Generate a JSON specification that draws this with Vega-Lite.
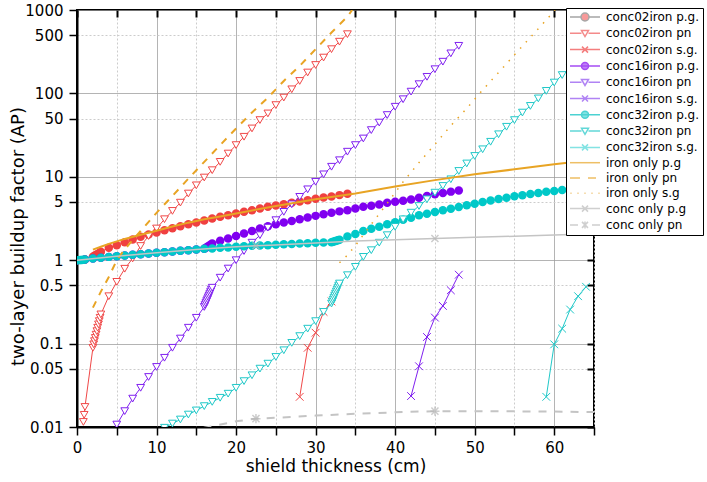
{
  "$schema": "https://vega.github.io/schema/vega-lite/v6.json",
  "width": 517,
  "height": 417,
  "autosize": "none",
  "padding": {"left": 77, "top": 10, "right": 113, "bottom": 55},
  "background": "white",
  "config": {
    "font": "DejaVu Sans",
    "view": {"stroke": "#000", "strokeWidth": 2},
    "axis": {
      "domainColor": "#000", "domainWidth": 2, "tickColor": "#000", "tickWidth": 1.5,
      "labelFont": "DejaVu Sans", "labelFontSize": 15, "labelColor": "#000",
      "titleFont": "DejaVu Sans", "titleFontSize": 17, "titleFontWeight": "normal", "titleColor": "#000"
    }
  },
  "datasets": {
    "c02pg": [{"x":0,"y":1.0},{"x":1,"y":1.02},{"x":2,"y":1.10},{"x":2.2,"y":1.13},{"x":2.4,"y":1.16},{"x":2.6,"y":1.19},{"x":2.8,"y":1.22},{"x":3,"y":1.26},{"x":4,"y":1.41},{"x":5,"y":1.51},{"x":6,"y":1.64},{"x":7,"y":1.77},{"x":8,"y":1.91},{"x":9,"y":2.03},{"x":10,"y":2.15},{"x":11,"y":2.29},{"x":12,"y":2.42},{"x":13,"y":2.56},{"x":14,"y":2.70},{"x":15,"y":2.83},{"x":16,"y":2.99},{"x":17,"y":3.16},{"x":18,"y":3.31},{"x":19,"y":3.47},{"x":20,"y":3.63},{"x":21,"y":3.80},{"x":22,"y":3.98},{"x":23,"y":4.17},{"x":24,"y":4.37},{"x":25,"y":4.54},{"x":26,"y":4.70},{"x":27,"y":4.88},{"x":28,"y":5.07},{"x":29,"y":5.25},{"x":30,"y":5.44},{"x":31,"y":5.65},{"x":32,"y":5.82},{"x":33,"y":6.03},{"x":34,"y":6.25}],
    "c02pn": [{"x":0.8,"y":0.0115},{"x":0.9,"y":0.014},{"x":1.0,"y":0.0174},{"x":2.0,"y":0.089},{"x":2.1,"y":0.098},{"x":2.2,"y":0.107},{"x":2.3,"y":0.117},{"x":2.4,"y":0.128},{"x":2.5,"y":0.141},{"x":2.6,"y":0.155},{"x":2.7,"y":0.170},{"x":2.8,"y":0.186},{"x":2.9,"y":0.204},{"x":3.0,"y":0.224},{"x":4,"y":0.37},{"x":5,"y":0.55},{"x":6,"y":0.79},{"x":7,"y":1.05},{"x":8,"y":1.48},{"x":9,"y":1.95},{"x":10,"y":2.4},{"x":11,"y":3.1},{"x":12,"y":3.9},{"x":13,"y":4.9},{"x":14,"y":6.3},{"x":15,"y":7.9},{"x":16,"y":9.8},{"x":17,"y":12.0},{"x":18,"y":15.1},{"x":19,"y":19.0},{"x":20,"y":24.0},{"x":21,"y":30.2},{"x":22,"y":38.0},{"x":23,"y":47.9},{"x":24,"y":57.5},{"x":25,"y":72.4},{"x":26,"y":89.1},{"x":27,"y":112},{"x":28,"y":141},{"x":29,"y":178},{"x":30,"y":219},{"x":31,"y":269},{"x":32,"y":339},{"x":33,"y":417},{"x":34,"y":513}],
    "c02sg": [{"x":28,"y":0.023},{"x":29,"y":0.089},{"x":30,"y":0.135},{"x":31,"y":0.24},{"x":32,"y":0.32}],
    "c16pg": [{"x":0,"y":1.0},{"x":1,"y":1.02},{"x":2,"y":1.047},{"x":3,"y":1.072},{"x":4,"y":1.096},{"x":5,"y":1.117},{"x":6,"y":1.138},{"x":7,"y":1.159},{"x":8,"y":1.18},{"x":9,"y":1.202},{"x":10,"y":1.225},{"x":11,"y":1.247},{"x":12,"y":1.271},{"x":13,"y":1.294},{"x":14,"y":1.318},{"x":15,"y":1.343},{"x":16.0,"y":1.37},{"x":16.2,"y":1.41},{"x":16.4,"y":1.445},{"x":16.6,"y":1.486},{"x":16.8,"y":1.53},{"x":17.0,"y":1.585},{"x":18,"y":1.706},{"x":19,"y":1.82},{"x":20,"y":1.95},{"x":21,"y":2.09},{"x":22,"y":2.24},{"x":23,"y":2.40},{"x":24,"y":2.56},{"x":25,"y":2.70},{"x":26,"y":2.83},{"x":27,"y":2.96},{"x":28,"y":3.10},{"x":29,"y":3.25},{"x":30,"y":3.40},{"x":31,"y":3.55},{"x":32,"y":3.70},{"x":33,"y":3.85},{"x":34,"y":3.98},{"x":35,"y":4.17},{"x":36,"y":4.37},{"x":37,"y":4.49},{"x":38,"y":4.66},{"x":39,"y":4.88},{"x":40,"y":5.01},{"x":41,"y":5.15},{"x":42,"y":5.35},{"x":43,"y":5.62},{"x":44,"y":5.89},{"x":45,"y":6.17},{"x":46,"y":6.40},{"x":47,"y":6.64},{"x":48,"y":6.85}],
    "c16pn": [{"x":5,"y":0.0107},{"x":6,"y":0.0155},{"x":7,"y":0.0219},{"x":8,"y":0.0295},{"x":9,"y":0.0398},{"x":10,"y":0.0525},{"x":11,"y":0.0676},{"x":12,"y":0.0891},{"x":13,"y":0.115},{"x":14,"y":0.155},{"x":15,"y":0.204},{"x":16.0,"y":0.275},{"x":16.1,"y":0.290},{"x":16.2,"y":0.306},{"x":16.3,"y":0.323},{"x":16.4,"y":0.340},{"x":16.5,"y":0.359},{"x":16.6,"y":0.378},{"x":16.7,"y":0.399},{"x":16.8,"y":0.421},{"x":16.9,"y":0.444},{"x":17.0,"y":0.468},{"x":18,"y":0.617},{"x":19,"y":0.794},{"x":20,"y":1.0},{"x":21,"y":1.288},{"x":22,"y":1.622},{"x":23,"y":1.995},{"x":24,"y":2.455},{"x":25,"y":3.02},{"x":26,"y":3.80},{"x":27,"y":4.68},{"x":28,"y":5.75},{"x":29,"y":7.08},{"x":30,"y":8.71},{"x":31,"y":10.7},{"x":32,"y":13.2},{"x":33,"y":15.8},{"x":34,"y":20.0},{"x":35,"y":24.0},{"x":36,"y":28.8},{"x":37,"y":36.3},{"x":38,"y":44.7},{"x":39,"y":55.0},{"x":40,"y":69.2},{"x":41,"y":85.1},{"x":42,"y":105},{"x":43,"y":129},{"x":44,"y":158},{"x":45,"y":195},{"x":46,"y":240},{"x":47,"y":302},{"x":48,"y":372}],
    "c16sg": [{"x":42,"y":0.0235},{"x":43,"y":0.0535},{"x":44,"y":0.12},{"x":45,"y":0.205},{"x":46,"y":0.283},{"x":47,"y":0.436},{"x":48,"y":0.67}],
    "c32pg": [{"x":0,"y":1.0},{"x":0.2,"y":1.002},{"x":0.4,"y":1.005},{"x":0.6,"y":1.008},{"x":0.8,"y":1.012},{"x":1.0,"y":1.02},{"x":2,"y":1.047},{"x":3,"y":1.072},{"x":4,"y":1.096},{"x":5,"y":1.117},{"x":6,"y":1.138},{"x":7,"y":1.159},{"x":8,"y":1.18},{"x":9,"y":1.202},{"x":10,"y":1.225},{"x":11,"y":1.247},{"x":12,"y":1.271},{"x":13,"y":1.294},{"x":14,"y":1.318},{"x":15,"y":1.343},{"x":16,"y":1.368},{"x":17,"y":1.38},{"x":18,"y":1.406},{"x":19,"y":1.419},{"x":20,"y":1.445},{"x":21,"y":1.466},{"x":22,"y":1.486},{"x":23,"y":1.50},{"x":24,"y":1.514},{"x":25,"y":1.528},{"x":26,"y":1.549},{"x":27,"y":1.567},{"x":28,"y":1.585},{"x":29,"y":1.60},{"x":30,"y":1.614},{"x":31,"y":1.629},{"x":32.0,"y":1.644},{"x":32.2,"y":1.667},{"x":32.4,"y":1.69},{"x":32.6,"y":1.714},{"x":32.8,"y":1.738},{"x":33.0,"y":1.762},{"x":34,"y":1.928},{"x":35,"y":2.065},{"x":36,"y":2.239},{"x":37,"y":2.388},{"x":38,"y":2.512},{"x":39,"y":2.692},{"x":40,"y":2.858},{"x":41,"y":3.062},{"x":42,"y":3.236},{"x":43,"y":3.451},{"x":44,"y":3.614},{"x":45,"y":3.784},{"x":46,"y":3.963},{"x":47,"y":4.15},{"x":48,"y":4.345},{"x":49,"y":4.55},{"x":50,"y":4.764},{"x":51,"y":4.989},{"x":52,"y":5.2},{"x":53,"y":5.42},{"x":54,"y":5.623},{"x":55,"y":5.834},{"x":56,"y":6.026},{"x":57,"y":6.237},{"x":58,"y":6.412},{"x":59,"y":6.607},{"x":60,"y":6.776},{"x":61,"y":6.934},{"x":62,"y":7.096},{"x":63,"y":7.261},{"x":64,"y":7.43}],
    "c32pn": [{"x":11,"y":0.0098},{"x":12,"y":0.011},{"x":13,"y":0.0123},{"x":14,"y":0.0141},{"x":15,"y":0.0158},{"x":16,"y":0.0178},{"x":17,"y":0.020},{"x":18,"y":0.0224},{"x":19,"y":0.0251},{"x":20,"y":0.0295},{"x":21,"y":0.0355},{"x":22,"y":0.0417},{"x":23,"y":0.0501},{"x":24,"y":0.0575},{"x":25,"y":0.0692},{"x":26,"y":0.0832},{"x":27,"y":0.102},{"x":28,"y":0.123},{"x":29,"y":0.151},{"x":30,"y":0.186},{"x":31,"y":0.240},{"x":32.0,"y":0.302},{"x":32.1,"y":0.319},{"x":32.2,"y":0.337},{"x":32.3,"y":0.356},{"x":32.4,"y":0.377},{"x":32.5,"y":0.398},{"x":32.6,"y":0.421},{"x":32.7,"y":0.445},{"x":32.8,"y":0.47},{"x":32.9,"y":0.497},{"x":33.0,"y":0.525},{"x":34,"y":0.661},{"x":35,"y":0.832},{"x":36,"y":1.096},{"x":37,"y":1.318},{"x":38,"y":1.622},{"x":39,"y":1.995},{"x":40,"y":2.512},{"x":41,"y":3.09},{"x":42,"y":3.715},{"x":43,"y":4.467},{"x":44,"y":5.37},{"x":45,"y":6.457},{"x":46,"y":7.762},{"x":47,"y":9.333},{"x":48,"y":11.75},{"x":49,"y":14.45},{"x":50,"y":17.78},{"x":51,"y":21.38},{"x":52,"y":26.3},{"x":53,"y":32.36},{"x":54,"y":39.81},{"x":55,"y":47.86},{"x":56,"y":58.88},{"x":57,"y":70.79},{"x":58,"y":87.1},{"x":59,"y":107.2},{"x":60,"y":134.9},{"x":61,"y":166.0},{"x":62,"y":204.2},{"x":63,"y":251.2},{"x":64,"y":309.0}],
    "c32sg": [{"x":59,"y":0.023},{"x":60,"y":0.098},{"x":61,"y":0.151},{"x":62,"y":0.256},{"x":63,"y":0.37},{"x":64,"y":0.48}],
    "fepg": [{"x":2,"y":1.34},{"x":3,"y":1.45},{"x":4,"y":1.57},{"x":5,"y":1.68},{"x":6,"y":1.80},{"x":8,"y":2.02},{"x":10,"y":2.26},{"x":12,"y":2.54},{"x":14,"y":2.82},{"x":16,"y":3.09},{"x":18,"y":3.35},{"x":20,"y":3.63},{"x":25,"y":4.47},{"x":30,"y":5.37},{"x":35,"y":6.31},{"x":40,"y":7.67},{"x":45,"y":9.12},{"x":50,"y":10.7},{"x":55,"y":12.3},{"x":60,"y":14.1},{"x":65,"y":16.0}],
    "fepn": [{"x":2,"y":0.27},{"x":3,"y":0.42},{"x":4,"y":0.63},{"x":5,"y":1.0},{"x":6,"y":1.35},{"x":8,"y":2.24},{"x":10,"y":3.7},{"x":12,"y":5.9},{"x":14,"y":9.5},{"x":16,"y":15.1},{"x":18,"y":24},{"x":20,"y":38},{"x":22,"y":59},{"x":24,"y":89},{"x":26,"y":141},{"x":28,"y":214},{"x":30,"y":339},{"x":32,"y":537},{"x":34,"y":832},{"x":34.6,"y":1000}],
    "fesg": [{"x":33,"y":0.93},{"x":34,"y":1.15},{"x":35,"y":1.5},{"x":37,"y":2.7},{"x":39,"y":4.8},{"x":41,"y":8.7},{"x":43,"y":14.8},{"x":45,"y":24.5},{"x":47,"y":41},{"x":49,"y":66},{"x":51,"y":110},{"x":53,"y":178},{"x":55,"y":290},{"x":57,"y":470},{"x":59,"y":760},{"x":60.1,"y":1000}],
    "cpg": [{"x":0,"y":1.0},{"x":5,"y":1.117},{"x":10,"y":1.225},{"x":15,"y":1.343},{"x":20,"y":1.445},{"x":22.5,"y":1.49},{"x":25,"y":1.52},{"x":30,"y":1.61},{"x":35,"y":1.70},{"x":40,"y":1.76},{"x":45,"y":1.82},{"x":50,"y":1.88},{"x":55,"y":1.94},{"x":60,"y":2.01},{"x":65,"y":2.07}],
    "cpn": [{"x":12,"y":0.0079},{"x":16,"y":0.0098},{"x":17,"y":0.0102},{"x":20,"y":0.0117},{"x":22.5,"y":0.0126},{"x":25,"y":0.0129},{"x":30,"y":0.0137},{"x":35,"y":0.0144},{"x":40,"y":0.015},{"x":45,"y":0.0155},{"x":50,"y":0.0155},{"x":55,"y":0.0154},{"x":60,"y":0.0153},{"x":65,"y":0.0151}],
    "names": [{"s":"conc02iron p.g."},{"s":"conc02iron pn"},{"s":"conc02iron s.g."},{"s":"conc16iron p.g."},{"s":"conc16iron pn"},{"s":"conc16iron s.g."},{"s":"conc32iron p.g."},{"s":"conc32iron pn"},{"s":"conc32iron s.g."},{"s":"iron only p.g"},{"s":"iron only pn"},{"s":"iron only s.g"},{"s":"conc only p.g"},{"s":"conc only pn"}]
  },
  "resolve": {"axis": {"x": "independent", "y": "independent"}},
  "layer": [
    {
      "encoding": {
        "x": {
          "field": "x", "type": "quantitative",
          "scale": {"domain": [0, 65], "nice": false, "zero": false},
          "axis": {
            "values": [0, 5, 10, 15, 20, 25, 30, 35, 40, 45, 50, 55, 60, 65],
            "labelExpr": "datum.value % 10 === 0 ? datum.label : ''",
            "title": "shield thickness (cm)",
            "grid": true,
            "gridColor": {"condition": {"test": "datum.value % 10 === 0", "value": "#9a9a9a"}, "value": "#cccccc"},
            "gridDash": {"condition": {"test": "datum.value % 10 === 0", "value": [1, 0]}, "value": [2, 2]},
            "tickSize": 8, "labelPadding": 5, "titlePadding": 3, "labelFlush": false
          }
        },
        "y": {
          "field": "y", "type": "quantitative",
          "scale": {"type": "log", "domain": [0.01, 1000], "nice": false},
          "axis": {
            "values": [0.01, 0.05, 0.1, 0.5, 1, 5, 10, 50, 100, 500, 1000],
            "format": "~g",
            "title": "two-layer buildup factor (AP)",
            "titleFontSize": 18,
            "titleX": -50,
            "titleY": 226,
            "grid": true,
            "gridColor": {"condition": {"test": "abs(log(datum.value)/LN10 - round(log(datum.value)/LN10)) < 0.01", "value": "#9a9a9a"}, "value": "#cccccc"},
            "gridDash": {"condition": {"test": "abs(log(datum.value)/LN10 - round(log(datum.value)/LN10)) < 0.01", "value": [1, 0]}, "value": [2, 2]},
            "tickSize": 8, "labelPadding": 6, "labelFlush": false
          }
        }
      },
      "layer": [
        {"data": {"values": [{"x": 2}]}, "mark": {"type": "rule", "color": "#f59a9a", "strokeDash": [2, 1], "strokeWidth": 1}, "encoding": {"y": {"datum": 0.01}, "y2": {"datum": 1000}}},
        {"data": {"values": [{"x": 16}]}, "mark": {"type": "rule", "color": "#8000ff", "strokeDash": [3, 1, 1, 1], "strokeWidth": 1}, "encoding": {"y": {"datum": 0.01}, "y2": {"datum": 1000}}},
        {"data": {"values": [{"x": 32}]}, "mark": {"type": "rule", "color": "#00c0c0", "strokeDash": [3, 2], "strokeWidth": 1}, "encoding": {"y": {"datum": 0.01}, "y2": {"datum": 1000}}},

        {"data": {"name": "c02pg"}, "mark": {"type": "line", "color": "#f04040", "strokeWidth": 1, "clip": true, "point": {"shape": "circle", "filled": true, "size": 72, "color": "#f04040", "clip": true}}},
        {"data": {"name": "c02pn"}, "mark": {"type": "line", "color": "#f04848", "strokeWidth": 1, "clip": true, "point": {"shape": "triangle-down", "filled": true, "fill": "#ffffff", "stroke": "#f04848", "strokeWidth": 1, "size": 60, "clip": true}}},
        {"data": {"name": "c02sg"}, "mark": {"type": "line", "color": "#f04848", "strokeWidth": 1, "clip": true, "point": {"shape": "M-1,-1L1,1M-1,1L1,-1", "filled": false, "stroke": "#f04848", "strokeWidth": 1, "size": 60, "clip": true}}},

        {"data": {"name": "c16pg"}, "mark": {"type": "line", "color": "#8000f0", "strokeWidth": 1, "clip": true, "point": {"shape": "circle", "filled": true, "size": 72, "color": "#8000f0", "clip": true}}},
        {"data": {"name": "c16pn"}, "mark": {"type": "line", "color": "#8020f0", "strokeWidth": 1, "clip": true, "point": {"shape": "triangle-down", "filled": true, "fill": "#ffffff", "stroke": "#8020f0", "strokeWidth": 1, "size": 60, "clip": true}}},
        {"data": {"name": "c16sg"}, "mark": {"type": "line", "color": "#8020f0", "strokeWidth": 1, "clip": true, "point": {"shape": "M-1,-1L1,1M-1,1L1,-1", "filled": false, "stroke": "#8020f0", "strokeWidth": 1, "size": 60, "clip": true}}},

        {"data": {"name": "c32pg"}, "mark": {"type": "line", "color": "#00c8c8", "strokeWidth": 1, "clip": true, "point": {"shape": "circle", "filled": true, "size": 72, "color": "#00c8c8", "clip": true}}},
        {"data": {"name": "c32pn"}, "mark": {"type": "line", "color": "#20c8c8", "strokeWidth": 1, "clip": true, "point": {"shape": "triangle-down", "filled": true, "fill": "#ffffff", "stroke": "#20c8c8", "strokeWidth": 1, "size": 60, "clip": true}}},
        {"data": {"name": "c32sg"}, "mark": {"type": "line", "color": "#20c8c8", "strokeWidth": 1, "clip": true, "point": {"shape": "M-1,-1L1,1M-1,1L1,-1", "filled": false, "stroke": "#20c8c8", "strokeWidth": 1, "size": 60, "clip": true}}},

        {"data": {"name": "fepg"}, "mark": {"type": "line", "color": "#e8a424", "strokeWidth": 2, "clip": true}},
        {"data": {"name": "fepn"}, "mark": {"type": "line", "color": "#e8a424", "strokeWidth": 2, "strokeDash": [7, 7], "clip": true}},
        {"data": {"name": "fesg"}, "mark": {"type": "line", "color": "#e8a424", "strokeWidth": 1.5, "strokeDash": [1.5, 7], "clip": true}},

        {"data": {"name": "cpg"}, "mark": {"type": "line", "color": "#c4c4c4", "strokeWidth": 1.5, "clip": true}},
        {"data": {"name": "cpn"}, "mark": {"type": "line", "color": "#c4c4c4", "strokeWidth": 2, "strokeDash": [8, 8], "clip": true}},
        {"data": {"name": "cpg"}, "transform": [{"filter": "datum.x == 22.5 || datum.x == 45"}], "mark": {"type": "point", "shape": "M-1,-1L1,1M-1,1L1,-1", "filled": false, "stroke": "#b8b8b8", "strokeWidth": 1.5, "size": 50}},
        {"data": {"name": "cpn"}, "transform": [{"filter": "datum.x == 22.5 || datum.x == 45"}], "mark": {"type": "point", "shape": "M-1,-1L1,1M-1,1L1,-1M0,-1.3L0,1.3M-1.3,0L1.3,0", "filled": false, "stroke": "#b8b8b8", "strokeWidth": 1.5, "size": 50}},

        {
          "data": {"name": "names"},
          "mark": {"type": "point", "size": 0, "strokeWidth": 1.5},
          "encoding": {
            "x": {"datum": 30},
            "y": {"datum": 1},
            "shape": {
              "field": "s", "type": "nominal",
              "scale": {
                "domain": ["conc02iron p.g.","conc02iron pn","conc02iron s.g.","conc16iron p.g.","conc16iron pn","conc16iron s.g.","conc32iron p.g.","conc32iron pn","conc32iron s.g.","iron only p.g","iron only pn","iron only s.g","conc only p.g","conc only pn"],
                "range": [
                  "M-1,0H1.2M2.8,0H5M2.8,0A0.8,0.8 0 1,1 1.2,0A0.8,0.8 0 1,1 2.8,0Z",
                  "M-1,0H1.3M2.7,0H5M1.3,-0.55L2.7,-0.55L2,0.65Z",
                  "M-1,0H5M1.4,-0.6L2.6,0.6M1.4,0.6L2.6,-0.6",
                  "M-1,0H5M2.7,0A0.7,0.7 0 1,1 1.3,0A0.7,0.7 0 1,1 2.7,0Z",
                  "M-1,0H1.3M2.7,0H5M1.3,-0.55L2.7,-0.55L2,0.65Z",
                  "M-1,0H5M1.4,-0.6L2.6,0.6M1.4,0.6L2.6,-0.6",
                  "M-1,0H5M2.7,0A0.7,0.7 0 1,1 1.3,0A0.7,0.7 0 1,1 2.7,0Z",
                  "M-1,0H1.3M2.7,0H5M1.3,-0.55L2.7,-0.55L2,0.65Z",
                  "M-1,0H5M1.4,-0.6L2.6,0.6M1.4,0.6L2.6,-0.6",
                  "M-1,0H5",
                  "M-1,0H1M2.6,0H4.2",
                  "M-0.9,0H-0.7M0.5,0H0.7M1.9,0H2.1M3.3,0H3.5M4.7,0H4.9",
                  "M-1,0H5M1.4,-0.6L2.6,0.6M1.4,0.6L2.6,-0.6",
                  "M-1,0H0.6M3.4,0H5M1.4,-0.6L2.6,0.6M1.4,0.6L2.6,-0.6M2,-0.7L2,0.7"
                ]
              },
              "legend": {
                "orient": "none", "legendX": 489, "legendY": -2,
                "title": null, "padding": 3,
                "strokeColor": "#000", "fillColor": "#ffffff",
                "labelFont": "DejaVu Sans", "labelFontSize": 12, "labelColor": "#000",
                "labelOffset": 25, "labelLimit": 200,
                "symbolSize": 100, "symbolStrokeWidth": 1.5,
                "rowPadding": 3.3, "symbolLimit": 0
              }
            },
            "stroke": {
              "field": "s", "type": "nominal",
              "scale": {
                "domain": ["conc02iron p.g.","conc02iron pn","conc02iron s.g.","conc16iron p.g.","conc16iron pn","conc16iron s.g.","conc32iron p.g.","conc32iron pn","conc32iron s.g.","iron only p.g","iron only pn","iron only s.g","conc only p.g","conc only pn"],
                "range": ["#808080","#f05a5a","#f04848","#8000f0","#9050f0","#9050f0","#00c0c0","#20c8c8","#50d8d8","#e8a424","#e8a424","#e8a424","#bbbbbb","#bbbbbb"]
              }
            },
            "fill": {
              "field": "s", "type": "nominal",
              "scale": {
                "domain": ["conc02iron p.g.","conc02iron pn","conc02iron s.g.","conc16iron p.g.","conc16iron pn","conc16iron s.g.","conc32iron p.g.","conc32iron pn","conc32iron s.g.","iron only p.g","iron only pn","iron only s.g","conc only p.g","conc only pn"],
                "range": ["#f03030","#ffffff","transparent","#8000f0","#ffffff","transparent","#00c8c8","#ffffff","transparent","transparent","transparent","transparent","transparent","transparent"]
              }
            }
          }
        }
      ]
    },
    {
      "data": {"values": [{"x": 0, "y": 1}]},
      "mark": {"type": "point", "size": 0, "opacity": 0},
      "encoding": {
        "x": {
          "field": "x", "type": "quantitative",
          "scale": {"domain": [0, 65], "nice": false, "zero": false},
          "axis": {"orient": "top", "values": [0, 5, 10, 15, 20, 25, 30, 35, 40, 45, 50, 55, 60, 65], "labels": false, "title": null, "grid": false, "domain": false, "tickSize": -7, "tickWidth": 2}
        },
        "y": {
          "field": "y", "type": "quantitative",
          "scale": {"type": "log", "domain": [0.01, 1000], "nice": false},
          "axis": {"orient": "right", "values": [0.01, 0.05, 0.1, 0.5, 1, 5, 10, 50, 100, 500, 1000], "labels": false, "title": null, "grid": false, "domain": false, "tickSize": -7, "tickWidth": 2}
        }
      }
    }
  ]
}
